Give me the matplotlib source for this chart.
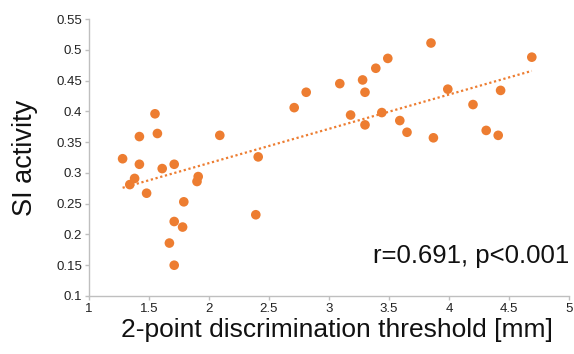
import matplotlib
matplotlib.use("Agg")
import matplotlib.pyplot as plt
import numpy as np

plt.rcParams['font.family'] = ['Liberation Sans', 'DejaVu Sans']

# 2-point discrimination threshold [mm]
threshold = [1.28, 1.34, 1.38, 1.42, 1.42, 1.48, 1.55, 1.57, 1.61, 1.71,
             1.71, 1.67, 1.71, 1.78, 1.79, 1.90, 1.91, 2.09, 2.39, 2.41,
             2.71, 2.81, 3.09, 3.28, 3.30, 3.39, 3.49, 3.85, 4.69, 3.99,
             4.43, 3.18, 3.44, 3.30, 3.59, 3.65, 3.87, 4.20, 4.31, 4.41]
# SI activity
si_activity = [0.323, 0.281, 0.291, 0.359, 0.314, 0.267, 0.396, 0.364, 0.307, 0.314,
               0.221, 0.186, 0.150, 0.212, 0.253, 0.286, 0.294, 0.361, 0.232, 0.326,
               0.406, 0.431, 0.445, 0.451, 0.431, 0.470, 0.486, 0.511, 0.488, 0.436,
               0.434, 0.394, 0.398, 0.378, 0.385, 0.366, 0.357, 0.411, 0.369, 0.361]

orange = '#ED7D31'
grey = '#BFBFBF'

fig = plt.figure(figsize=(5.74, 3.54), dpi=100)
ax = fig.add_axes([89 / 574, 58 / 354, 480 / 574, 277 / 354])

ax.scatter(threshold, si_activity, s=48, color=orange, edgecolors='none', zorder=3)

# linear trend line
x = np.array(threshold)
y = np.array(si_activity)
slope, intercept = np.polyfit(x, y, 1)
xs = np.array([x.min(), x.max()])
ax.plot(xs, slope * xs + intercept, color=orange, linestyle=(0, (1, 1.2)), linewidth=1.6, zorder=2)

ax.set_xlim(1, 5)
ax.set_ylim(0.1, 0.55)
ax.set_xticks(np.arange(1, 5.01, 0.5))
ax.set_xticklabels(['1', '1.5', '2', '2.5', '3', '3.5', '4', '4.5', '5'])
ax.set_yticks(np.arange(0.1, 0.551, 0.05))
ax.set_yticklabels(['0.1', '0.15', '0.2', '0.25', '0.3', '0.35', '0.4', '0.45', '0.5', '0.55'])

for side in ['top', 'right']:
    ax.spines[side].set_visible(False)
for side in ['left', 'bottom']:
    ax.spines[side].set_color(grey)
    ax.spines[side].set_linewidth(1)
ax.tick_params(axis='both', direction='out', length=3, width=1, color=grey,
               labelsize=9.5, labelcolor='#222222', pad=2)

ax.set_xlabel('2-point discrimination threshold [mm]', fontsize=19, color='#111111')
ax.set_ylabel('SI activity', fontsize=19.5, color='#111111')
ax.xaxis.set_label_coords(0.517, -0.078)
ax.yaxis.set_label_coords(-0.106, 0.5)

ax.text(1.0, 0.165, 'r=0.691, p<0.001', transform=ax.get_yaxis_transform(),
        ha='right', va='center', fontsize=18.5, color='#111111')

fig.savefig('out.png', dpi=100)
